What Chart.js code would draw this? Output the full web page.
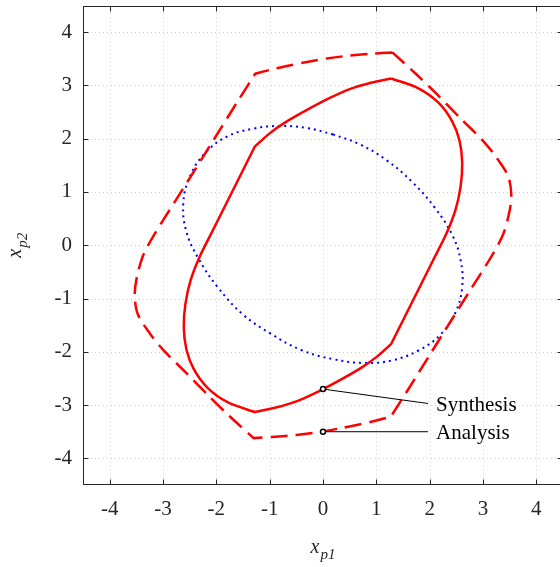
<!DOCTYPE html>
<html>
<head>
<meta charset="utf-8">
<script src="https://cdn.jsdelivr.net/npm/chart.js@4.4.0/dist/chart.umd.min.js"></script>
<style>
  html, body { margin: 0; padding: 0; overflow: hidden; background: #fff; }
</style>
</head>
<body>
<canvas id="chart" width="570" height="567"></canvas>
<script>
const xTicks = [-4, -3, -2, -1, 0, 1, 2, 3, 4];
const yTicks = [-4, -3, -2, -1, 0, 1, 2, 3, 4];

// solid red region (synthesis); corner points are listed twice so they stay sharp
const synthesisX = [1.28, 1.28, 0.90, 0.50, 0.10, -0.30, -0.70, -1.00, -1.28, -1.28, -1.67, -2.06, -2.31, -2.48, -2.58, -2.61, -2.56, -2.42, -2.16, -1.78, -1.28, -1.28, -0.90, -0.50, -0.10, 0.30, 0.70, 1.00, 1.28, 1.28, 1.67, 2.06, 2.31, 2.48, 2.58, 2.61, 2.56, 2.42, 2.16, 1.78, 1.28];
const synthesisY = [3.13, 3.13, 3.05, 2.93, 2.75, 2.54, 2.31, 2.10, 1.85, 1.85, 1.07, 0.29, -0.21, -0.65, -1.10, -1.55, -1.96, -2.33, -2.68, -2.95, -3.13, -3.13, -3.05, -2.93, -2.75, -2.54, -2.31, -2.10, -1.85, -1.85, -1.07, -0.29, 0.21, 0.65, 1.10, 1.55, 1.96, 2.33, 2.68, 2.95, 3.13];

// dashed red region (analysis)
const analysisX = [1.30, 1.30, 0.90, 0.50, 0.10, -0.30, -0.70, -1.00, -1.27, -1.27, -1.62, -2.00, -2.38, -2.75, -3.17, -3.38, -3.50, -3.53, -3.47, -3.25, -3.00, -2.56, -2.13, -1.75, -1.30, -1.30, -0.90, -0.50, -0.10, 0.30, 0.70, 1.00, 1.27, 1.27, 1.62, 2.00, 2.38, 2.75, 3.17, 3.38, 3.50, 3.53, 3.47, 3.25, 3.00, 2.56, 2.13, 1.75, 1.30];
const analysisY = [3.62, 3.62, 3.595, 3.56, 3.51, 3.44, 3.36, 3.29, 3.22, 3.22, 2.67, 2.06, 1.45, 0.86, 0.19, -0.21, -0.65, -0.96, -1.30, -1.65, -1.96, -2.40, -2.84, -3.21, -3.62, -3.62, -3.595, -3.56, -3.51, -3.44, -3.36, -3.29, -3.22, -3.22, -2.67, -2.06, -1.45, -0.86, -0.19, 0.21, 0.65, 0.96, 1.30, 1.65, 1.96, 2.40, 2.84, 3.21, 3.62];

// blue dotted ellipse
const ellipseX = [0.19, -0.30, -0.80, -1.30, -1.80, -2.22, -2.50, -2.62, -2.56, -2.34, -1.98, -1.50, -0.98, -0.40, 0.20, 0.78, 1.30, 1.80, 2.20, 2.48, 2.61, 2.58, 2.43, 2.10, 1.68, 1.20, 0.70, 0.19];
const ellipseY = [2.08, 2.20, 2.24, 2.19, 2.04, 1.72, 1.28, 0.78, 0.25, -0.24, -0.78, -1.30, -1.66, -1.97, -2.14, -2.21, -2.16, -1.97, -1.68, -1.27, -0.78, -0.28, 0.18, 0.70, 1.18, 1.59, 1.89, 2.08];

// callouts: marked point and the end of the leader line
const calloutNames = ['Synthesis', 'Analysis'];
const calloutPointX = [0, 0];
const calloutPointY = [-2.70, -3.50];
const calloutEndX = [1.97, 1.97];
const calloutEndY = [-2.97, -3.50];

const toPts = (xs, ys) => xs.map((x, i) => ({ x: x, y: ys[i] }));

const AXIS = '#262626';
const SERIF = '"Liberation Serif", "Times New Roman", serif';

const decorPlugin = {
  id: 'decor',
  beforeDatasetsDraw(chart) {
    const { ctx, chartArea: a, scales } = chart;
    ctx.save();
    ctx.strokeStyle = 'rgba(38,38,38,0.22)';
    ctx.lineWidth = 1;
    ctx.setLineDash([1, 3]);
    xTicks.forEach(v => {
      const px = Math.round(scales.x.getPixelForValue(v)) + 0.5;
      ctx.beginPath(); ctx.moveTo(px, a.top); ctx.lineTo(px, a.bottom); ctx.stroke();
    });
    yTicks.forEach(v => {
      const py = Math.round(scales.y.getPixelForValue(v)) + 0.5;
      ctx.beginPath(); ctx.moveTo(a.left, py); ctx.lineTo(a.right, py); ctx.stroke();
    });
    ctx.restore();
  },
  afterDatasetsDraw(chart) {
    const { ctx, chartArea: a, scales } = chart;
    ctx.save();
    ctx.strokeStyle = AXIS;
    ctx.lineWidth = 1;
    ctx.setLineDash([]);
    const l = Math.round(a.left) + 0.5, r = Math.round(a.right) - 0.5;
    const t = Math.round(a.top) + 0.5, b = Math.round(a.bottom) - 0.5;
    ctx.strokeRect(l, t, r - l, b - t);
    const tl = 5;
    ctx.beginPath();
    xTicks.forEach(v => {
      const px = Math.round(scales.x.getPixelForValue(v)) + 0.5;
      ctx.moveTo(px, b); ctx.lineTo(px, b - tl);
      ctx.moveTo(px, t); ctx.lineTo(px, t + tl);
    });
    yTicks.forEach(v => {
      const py = Math.round(scales.y.getPixelForValue(v)) + 0.5;
      ctx.moveTo(l, py); ctx.lineTo(l + tl, py);
      ctx.moveTo(r, py); ctx.lineTo(r - tl, py);
    });
    ctx.stroke();

    // callout labels
    ctx.fillStyle = '#000';
    ctx.font = '21px ' + SERIF;
    ctx.textAlign = 'left';
    ctx.textBaseline = 'middle';
    calloutNames.forEach((name, i) => {
      const px = scales.x.getPixelForValue(calloutEndX[i]) + 8;
      const py = scales.y.getPixelForValue(calloutEndY[i]) + 2;
      ctx.fillText(name, px, py);
    });

    // axis titles with subscripts
    const drawTitle = (main, sub) => {
      ctx.font = 'italic 20px ' + SERIF;
      const w1 = ctx.measureText(main).width;
      ctx.font = 'italic 15px ' + SERIF;
      const w2 = ctx.measureText(sub).width;
      const start = -(w1 + w2 + 1) / 2;
      ctx.font = 'italic 20px ' + SERIF;
      ctx.fillText(main, start, 0);
      ctx.font = 'italic 15px ' + SERIF;
      ctx.fillText(sub, start + w1 + 1, 6);
    };
    ctx.fillStyle = AXIS;
    ctx.textBaseline = 'alphabetic';
    ctx.save();
    ctx.translate((a.left + a.right) / 2, 553);
    drawTitle('x', 'p1');
    ctx.restore();
    ctx.save();
    ctx.translate(21, (a.top + a.bottom) / 2);
    ctx.rotate(-Math.PI / 2);
    drawTitle('x', 'p2');
    ctx.restore();
    ctx.restore();
  }
};

const tickFont = { family: SERIF, size: 21 };

new Chart(document.getElementById('chart'), {
  type: 'scatter',
  data: {
    datasets: [
      {
        data: toPts(calloutPointX, calloutPointY),
        showLine: false,
        pointRadius: 2.5,
        pointBorderWidth: 1.5,
        pointBorderColor: '#000',
        pointBackgroundColor: '#fff'
      },
      {
        data: [
          { x: calloutPointX[0], y: calloutPointY[0] }, { x: calloutEndX[0], y: calloutEndY[0] }
        ],
        showLine: true, borderColor: '#000', borderWidth: 1, pointRadius: 0, tension: 0
      },
      {
        data: [
          { x: calloutPointX[1], y: calloutPointY[1] }, { x: calloutEndX[1], y: calloutEndY[1] }
        ],
        showLine: true, borderColor: '#000', borderWidth: 1, pointRadius: 0, tension: 0
      },
      {
        data: toPts(synthesisX, synthesisY),
        showLine: true, borderColor: '#ff0000', borderWidth: 2.5, pointRadius: 0, tension: 0.3
      },
      {
        data: toPts(analysisX, analysisY),
        showLine: true, borderColor: '#ff0000', borderWidth: 2.5, borderDash: [17, 8],
        pointRadius: 0, tension: 0.3
      },
      {
        data: toPts(ellipseX, ellipseY),
        showLine: true, borderColor: '#0000ff', borderWidth: 2, borderDash: [2, 4],
        pointRadius: 0, tension: 0.4
      }
    ]
  },
  options: {
    responsive: false,
    animation: false,
    devicePixelRatio: 1,
    layout: { padding: { top: 5, right: 7, left: 0, bottom: 0 } },
    plugins: { legend: { display: false }, tooltip: { enabled: false } },
    scales: {
      x: {
        type: 'linear', min: -4.5, max: 4.5,
        afterBuildTicks: s => { s.ticks = xTicks.map(v => ({ value: v })); },
        afterFit: s => { s.height = 82; s.paddingLeft = 0; s.paddingRight = 0; },
        ticks: { font: tickFont, color: AXIS, padding: 12, maxRotation: 0, autoSkip: false },
        grid: { display: false, drawTicks: false },
        border: { display: false }
      },
      y: {
        type: 'linear', min: -4.5, max: 4.5,
        afterBuildTicks: s => { s.ticks = yTicks.map(v => ({ value: v })); },
        afterFit: s => { s.width = 83; s.paddingTop = 0; s.paddingBottom = 0; },
        ticks: { font: tickFont, color: AXIS, padding: 11, autoSkip: false },
        grid: { display: false, drawTicks: false },
        border: { display: false }
      }
    }
  },
  plugins: [decorPlugin]
});
</script>
</body>
</html>
